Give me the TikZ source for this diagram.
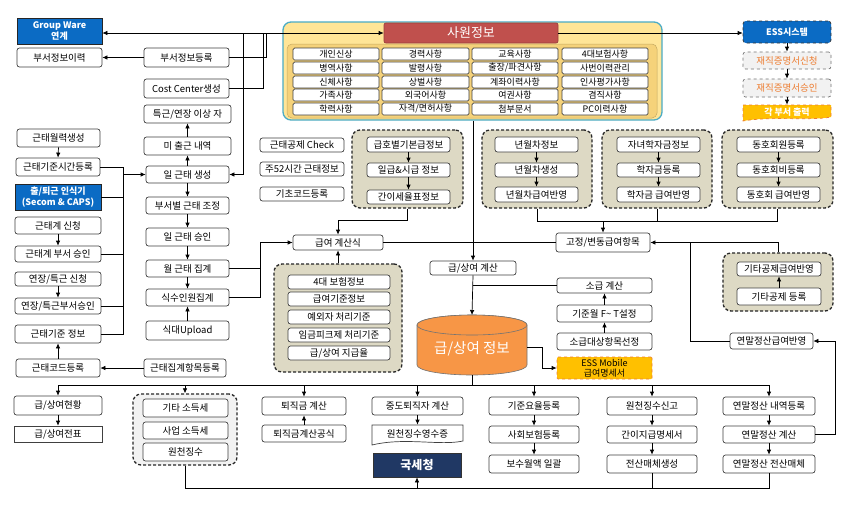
\documentclass[tikz,border=0pt]{standalone}
\usepackage{fontspec}
\setmainfont{Noto Sans CJK KR}
\usetikzlibrary{arrows.meta,calc}
\definecolor{boxline}{HTML}{404040}
\definecolor{bluefill}{HTML}{0B6BC4}
\definecolor{navyfill}{HTML}{203864}
\definecolor{cylfill}{HTML}{F79646}
\definecolor{khaki}{HTML}{DDD9C4}
\definecolor{goldfill}{HTML}{FFC000}
\definecolor{orangetxt}{HTML}{ED7D31}
\definecolor{frameout}{HTML}{FFE597}
\definecolor{framein}{HTML}{F5D27A}
\definecolor{frameline}{HTML}{4BACC6}
\definecolor{redfill}{HTML}{C0504D}
\definecolor{lgray}{HTML}{F2F2F2}
\newcommand{\mybox}[7][]{%
  \pgfmathsetmacro\bxw{#5-#3}%
  \pgfmathsetmacro\bxh{#6-#4}%
  \pgfmathsetmacro\bxcx{(#3+#5)/2}%
  \pgfmathsetmacro\bxcy{(#4+#6)/2}%
  \node[box,#1,minimum width=\bxw pt,minimum height=\bxh pt] (#2) at (\bxcx,\bxcy) {#7};%
}
\tikzset{
  box/.style={draw=boxline, fill=white, rounded corners=2.5pt, line width=0.7pt,
    inner sep=0pt, align=center, text=black, font=\fontsize{9.5}{10.5}\selectfont},
  gitem/.style={rounded corners=1.5pt, font=\fontsize{9}{10}\selectfont},
  bluebox/.style={fill=bluefill, draw=black!85, rounded corners=0pt, text=white,
    font=\fontsize{9}{10.5}\selectfont\bfseries},
  grp/.style={draw=black!85, fill=khaki, line width=1.3pt, dash pattern=on 3pt off 2pt, rounded corners=8pt},
  grpg/.style={grp, fill=lgray},
  nodraw/.style={draw=none, fill=none},
  conn/.style={line width=0.7pt, draw=black},
  arr/.style={conn, -{Latex[length=5pt,width=4.5pt]}},
  dbl/.style={conn, {Latex[length=5pt,width=4.5pt]}-{Latex[length=5pt,width=4.5pt]}},
}
\begin{document}
\begin{tikzpicture}[x=1pt,y=-1pt]
\useasboundingbox (0,0) rectangle (850,509);
\fill[white] (0,0) rectangle (850,509);

% ---------- top frame ----------
\mybox[fill=frameout, draw=frameline, line width=1.3pt, rounded corners=8pt]{frame}{283}{22}{662}{120}{}
\mybox[fill=framein, draw=framein!80!black, line width=0.5pt, rounded corners=5pt]{inner}{287}{44}{657}{118}{}
\mybox[fill=redfill, draw=redfill!80!black, rounded corners=2pt, text=white, font=\fontsize{13}{14}\selectfont]{sawon}{384}{23}{558}{43}{사원정보}
\mybox[gitem]{g11}{293}{48}{379}{60}{개인신상}
\mybox[gitem]{g12}{382}{48}{469}{60}{경력사항}
\mybox[gitem]{g13}{472}{48}{558}{60}{교육사항}
\mybox[gitem]{g14}{562}{48}{648}{60}{4대보험사항}
\mybox[gitem]{g21}{293}{62}{379}{74}{병역사항}
\mybox[gitem]{g22}{382}{62}{469}{74}{발령사항}
\mybox[gitem]{g23}{472}{62}{558}{74}{출장/파견사항}
\mybox[gitem]{g24}{562}{62}{648}{74}{사번이력관리}
\mybox[gitem]{g31}{293}{76}{379}{88}{신체사항}
\mybox[gitem]{g32}{382}{76}{469}{88}{상벌사항}
\mybox[gitem]{g33}{472}{76}{558}{88}{계좌이력사항}
\mybox[gitem]{g34}{562}{76}{648}{88}{인사평가사항}
\mybox[gitem]{g41}{293}{89}{379}{101}{가족사항}
\mybox[gitem]{g42}{382}{89}{469}{101}{외국어사항}
\mybox[gitem]{g43}{472}{89}{558}{101}{여권사항}
\mybox[gitem]{g44}{562}{89}{648}{101}{겸직사항}
\mybox[gitem]{g51}{293}{103}{379}{115}{학력사항}
\mybox[gitem]{g52}{382}{103}{469}{115}{자격/면허사항}
\mybox[gitem]{g53}{472}{103}{558}{115}{첨부문서}
\mybox[gitem]{g54}{562}{103}{648}{115}{PC이력사항}

% ---------- top right ESS ----------
\mybox[fill=bluefill, draw=black!80, dashed, rounded corners=3pt, text=white, font=\fontsize{9}{10.5}\selectfont\bfseries]{ess}{743}{21}{831}{43}{ESS시스템}
\mybox[fill=lgray, draw=black!55, dashed, text=orangetxt]{jjs}{743}{52}{831}{69}{재직증명서신청}
\mybox[fill=lgray, draw=black!55, dashed, text=orangetxt]{jja}{743}{79}{831}{97}{재직증명서승인}
\path[fill=goldfill, draw=orangetxt, dashed, line width=0.7pt] (743,105) -- (831,105) -- (831,117)
  .. controls (810,121) and (770,116) .. (743,121) -- cycle;
\mybox[nodraw, text=white, font=\fontsize{9}{10.5}\selectfont\bfseries]{gbc}{743}{105}{831}{120}{각 부서 출력}

% ---------- top left ----------
\mybox[bluebox]{gw}{17}{18}{102}{44}{Group Ware\\연계}
\mybox{bsil}{17}{48}{102}{67}{부서정보이력}
\mybox{bsdr}{144}{48}{229}{67}{부서정보등록}
\mybox{cost}{144}{79}{229}{98}{Cost Center생성}
\mybox{tkyj}{144}{105}{231}{123}{특근/연장 이상 자}
\mybox{mcg}{144}{137}{231}{155}{미 출근 내역}

% ---------- left column ----------
\mybox{ktwr}{17}{129}{100}{147}{근태월력생성}
\mybox{ktkj}{16}{158}{100}{176}{근태기준시간등록}
\mybox[bluebox]{cti}{15}{184}{101}{210}{출/퇴근 인식기\\(Secom \& CAPS)}
\mybox{ktgs}{15}{217}{101}{234}{근태계 신청}
\mybox{ktgb}{15}{246}{101}{262}{근태계 부서 승인}
\mybox{yjsc}{15}{272}{101}{286}{연장/특근 신청}
\mybox{yjsi}{15}{298}{101}{314}{연장/특근부서승인}
\mybox{ktji}{15}{325}{101}{343}{근태기준 정보}
\mybox{ktcd}{16}{359}{100}{377}{근태코드등록}

% ---------- middle column ----------
\mybox{ilsc}{146}{166}{229}{183}{일 근태 생성}
\mybox{bsbj}{146}{197}{229}{214}{부서별 근태 조정}
\mybox{ilsi}{146}{228}{229}{246}{일 근태 승인}
\mybox{wljg}{146}{260}{229}{277}{월 근태 집계}
\mybox{ssij}{146}{289}{229}{306}{식수인원집계}
\mybox{sdup}{146}{321}{229}{340}{식대Upload}
\mybox{ktjh}{144}{359}{226}{377}{근태집계항목등록}

% ---------- center ----------
\mybox{ktcheck}{260}{138}{344}{152}{근태공제 Check}
\mybox{j52}{260}{162}{344}{176}{주52시간 근태정보}
\mybox{gcdr}{260}{187}{344}{201}{기초코드등록}

\mybox[grp]{grpA}{352}{130}{463}{208}{}
\mybox{ghb}{367}{137}{450}{152}{급호별기본급정보}
\mybox{igsg}{367}{163}{450}{177}{일급\&시급 정보}
\mybox{gisy}{367}{190}{450}{204}{간이세율표정보}

\mybox{gyf}{293}{235}{383}{250}{급여 계산식}

\mybox[grp]{grpB}{274}{264}{402}{372}{}
\mybox{dbh}{288}{275}{390}{289}{4대 보험정보}
\mybox{gygj}{288}{292}{390}{306}{급여기준정보}
\mybox{ywj}{288}{310}{390}{324}{예외자 처리기준}
\mybox{igpk}{288}{328}{390}{342}{임금피크제 처리기준}
\mybox{gsjg}{288}{346}{390}{360}{급/상여 지급율}

\mybox{gsgs}{430}{261}{516}{275}{급/상여 계산}
\mybox{sgg}{557}{278}{652}{293}{소급 계산}
\mybox{gjw}{557}{305}{652}{322}{기준월 F\textasciitilde{} T설정}
\mybox{sgdh}{557}{333}{652}{350}{소급대상항목선정}
\mybox[fill=goldfill, draw=orangetxt, dashed, rounded corners=1pt, text=black, font=\fontsize{9}{10}\selectfont]{essm}{557}{357}{652}{379}{ESS Mobile\\급여명세서}

% cylinder
\path[fill=cylfill, draw=black!55, line width=0.6pt] (417,325) -- (417,365)
  arc[start angle=180, end angle=360, x radius=55pt, y radius=10pt] -- (527,325)
  arc[start angle=0, end angle=180, x radius=55pt, y radius=10pt] -- cycle;
\draw[fill=cylfill, draw=black!55, line width=0.6pt] (472,325) ellipse[x radius=55pt, y radius=10pt];
\node[text=white, font=\fontsize{14.5}{16}\selectfont] (cyl) at (472,349) {급/상여 정보};
\coordinate (cylT) at (472,315);
\coordinate (cylB) at (472,375);
\coordinate (cylR) at (527,347);

% ---------- right groups ----------
\mybox[grp]{grpC}{482}{130}{592}{208}{}
\mybox{nwj}{495}{137}{578}{152}{년월차정보}
\mybox{nws}{495}{163}{578}{177}{년월차생성}
\mybox{nwb}{495}{187}{578}{202}{년월차급여반영}
\mybox[grp]{grpD}{602}{130}{712}{208}{}
\mybox{jnh}{617}{137}{700}{152}{자녀학자금정보}
\mybox{hjd}{617}{163}{700}{177}{학자금등록}
\mybox{hjb}{617}{187}{700}{202}{학자금 급여반영}
\mybox[grp]{grpE}{722}{130}{833}{208}{}
\mybox{dhw}{737}{137}{820}{152}{동호회원등록}
\mybox{dhb}{737}{163}{820}{177}{동호회비등록}
\mybox{dhg}{737}{187}{820}{202}{동호회 급여반영}

\mybox{gbh}{556}{233}{650}{252}{고정/변동급여항목}

\mybox[grp]{grpF}{723}{253}{833}{311}{}
\mybox{gtgb}{737}{262}{821}{276}{기타공제급여반영}
\mybox{gtgd}{737}{288}{821}{305}{기타공제 등록}
\mybox{yjgb}{730}{333}{813}{349}{연말정산급여반영}

% ---------- bottom ----------
\mybox{gsh}{14}{396}{102}{415}{급/상여현황}
\mybox[rounded corners=0pt]{gsjp}{14}{426}{102}{442}{급/상여전표}
\mybox[grpg]{grpG}{133}{394}{237}{465}{}
\mybox{gtsd}{143}{399}{228}{417}{기타 소득세}
\mybox{sesd}{143}{422}{228}{439}{사업 소득세}
\mybox{wcjs}{143}{443}{228}{461}{원천징수}
\mybox{tjg}{262}{397}{346}{415}{퇴직금 계산}
\mybox{tjgf}{262}{425}{346}{442}{퇴직금계산공식}
\mybox{jdtj}{372}{397}{463}{415}{중도퇴직자 계산}
\path[fill=white, draw=boxline, line width=0.7pt] (372,425) -- (463,425) -- (463,441)
  .. controls (440,446) and (405,437) .. (372,445) -- cycle;
\mybox[nodraw]{wcys}{372}{425}{463}{442}{원천징수영수증}
\mybox[fill=navyfill, draw=black!80, rounded corners=0pt, text=white, font=\fontsize{12}{13}\selectfont\bfseries]{nts}{373}{453}{461}{477}{국세청}
\mybox{gjyd}{489}{397}{579}{415}{기준요율등록}
\mybox{shbh}{489}{426}{579}{443}{사회보험등록}
\mybox{bswa}{489}{455}{579}{473}{보수월액 일괄}
\mybox{wcsg}{607}{397}{697}{415}{원천징수신고}
\mybox{gjgm}{607}{426}{697}{443}{간이지급명세서}
\mybox{jsmc}{607}{455}{697}{473}{전산매체생성}
\mybox{yjnd}{723}{397}{815}{415}{연말정산 내역등록}
\mybox{yjgs}{723}{426}{815}{443}{연말정산 계산}
\mybox{yjjs}{723}{455}{815}{473}{연말정산 전산매체}

% ---------- connectors ----------
\coordinate (jA) at (266,33);
\coordinate (jB) at (263,33);
\coordinate (jC) at (243,33);
\draw[dbl] (gw.east |- sawon.west) -- (sawon.west);
\draw[arr] (sawon.east) -- (sawon.east -| ess.west);
\draw[arr] (jC) |- (ilsc.east);
\draw[conn] (bsdr.east) -| (jA);
\draw[conn] (cost.east) -| (jB);
\draw[arr] (bsdr.west) -- (bsil.east);

\draw[arr] (ess.south) -- (jjs.north);
\draw[arr] (jjs.south) -- (jja.north);
\draw[arr] (jja.south) -- (gbc.north);

% left column
\draw[arr] (ktwr.south) -- (ktkj.north);
\draw[arr] (ktgs.south) -- (ktgb.north);
\draw[arr] (yjsc.south) -- (yjsi.north);
\draw[arr] (ktcd.north) -- (ktji.south);
\coordinate (lbT) at (123,167);
\coordinate (lbB) at (123,334);
\draw[conn] (ktkj.east) -- (lbT) -- (lbB) -- (ktji.east);
\draw[conn] (cti.east) -- (cti.east -| lbT);
\draw[conn] (ktgb.east) -- (ktgb.east -| lbT);
\draw[conn] (yjsi.east) -- (yjsi.east -| lbT);
\draw[arr] (lbT |- ilsc.west) -- (ilsc.west);
\draw[arr] (ktjh.west) -- (ktcd.east);

% middle column
\draw[arr] (ilsc.north) -- (mcg.south);
\draw[arr] (mcg.north) -- (tkyj.south);
\draw[arr] (ilsc.south) -- (bsbj.north);
\draw[arr] (bsbj.south) -- (ilsi.north);
\draw[arr] (ilsi.south) -- (wljg.north);
\draw[arr] (wljg.south) -- (ssij.north);
\draw[arr] (sdup.north) -- (ssij.south);
\coordinate (mbx) at (260,0);
\draw[arr] (wljg.east) -- (wljg.east -| mbx) |- (gyf.west);
\draw[conn] (ssij.east) -- (ssij.east -| mbx) -- (wljg.east -| mbx);

% group A
\draw[arr] (ghb.south) -- (igsg.north);
\draw[arr] (igsg.south) -- (gisy.north);
\coordinate (aJ) at (407.5,220);
\draw[arr] (grpA.south) -- (aJ) -| (gyf.north);
\draw[arr] (grpB.north) -- (gyf.south);
\draw[conn] (gyf.east) -- (gbh.west);

% center vertical
\draw[arr] (gsgs.north |- frame.south) -- (gsgs.north);
\draw[arr] (gsgs.south) -- (cylT);
\draw[conn] (gsgs.south |- sgg.west) -- (sgg.west);
\draw[arr] (sgdh.north) -- (gjw.south);
\draw[arr] (gjw.north) -- (sgg.south);
\coordinate (mx) at (542,0);
\draw[arr] (cylR) -- (cylR -| mx) |- (essm.west);

% right groups
\draw[arr] (nwj.south) -- (nws.north);
\draw[arr] (nws.south) -- (nwb.north);
\draw[arr] (jnh.south) -- (hjd.north);
\draw[arr] (hjd.south) -- (hjb.north);
\draw[arr] (dhw.south) -- (dhb.north);
\draw[arr] (dhb.south) -- (dhg.north);
\coordinate (busC) at (0,221);
\draw[conn] (grpC.south) -- (grpC.south |- busC) -- (grpE.south |- busC) -- (grpE.south);
\draw[conn] (grpD.south) -- (grpD.south |- busC);
\draw[arr] (gbh.north |- busC) -- (gbh.north);
\draw[arr] (gtgd.north) -- (gtgb.south);
\draw[arr] (grpF.north) |- (gbh.east);
\coordinate (r690) at (690,0);
\draw[conn] (yjgb.west) -| (gbh.east -| r690);
\coordinate (r835) at (835,0);
\draw[arr] (yjgs.east) -| (yjgb.east -| r835) -- (yjgb.east);

% bottom bus
\coordinate (bbus) at (0,385);
\draw[conn] (cylB) -- (cylB |- bbus);
\draw[conn] (gsh.north |- bbus) -- (yjnd.north |- bbus);
\draw[arr] (gsh.north |- bbus) -- (gsh.north);
\draw[arr] (grpG.north |- bbus) -- (grpG.north);
\draw[arr] (tjg.north |- bbus) -- (tjg.north);
\draw[arr] (jdtj.north |- bbus) -- (jdtj.north);
\draw[arr] (gjyd.north |- bbus) -- (gjyd.north);
\draw[arr] (wcsg.north |- bbus) -- (wcsg.north);
\draw[arr] (yjnd.north |- bbus) -- (yjnd.north);

\draw[arr] (gsh.south) -- (gsjp.north);
\draw[arr] (tjgf.north) -- (tjg.south);
\draw[arr] (jdtj.south) -- (wcys.north);
\draw[arr] (gjyd.south) -- (shbh.north);
\draw[arr] (shbh.south) -- (bswa.north);
\draw[arr] (wcsg.south) -- (gjgm.north);
\draw[arr] (gjgm.south) -- (jsmc.north);
\draw[arr] (yjnd.south) -- (yjgs.north);
\draw[arr] (yjgs.south) -- (yjjs.north);

\coordinate (bl) at (0,488);
\draw[conn] (grpG.south) -- (grpG.south |- bl) -- (yjjs.south |- bl) -- (yjjs.south);
\draw[conn] (jsmc.south) -- (jsmc.south |- bl);
\draw[arr] (nts.south |- bl) -- (nts.south);
\end{tikzpicture}
\end{document}
